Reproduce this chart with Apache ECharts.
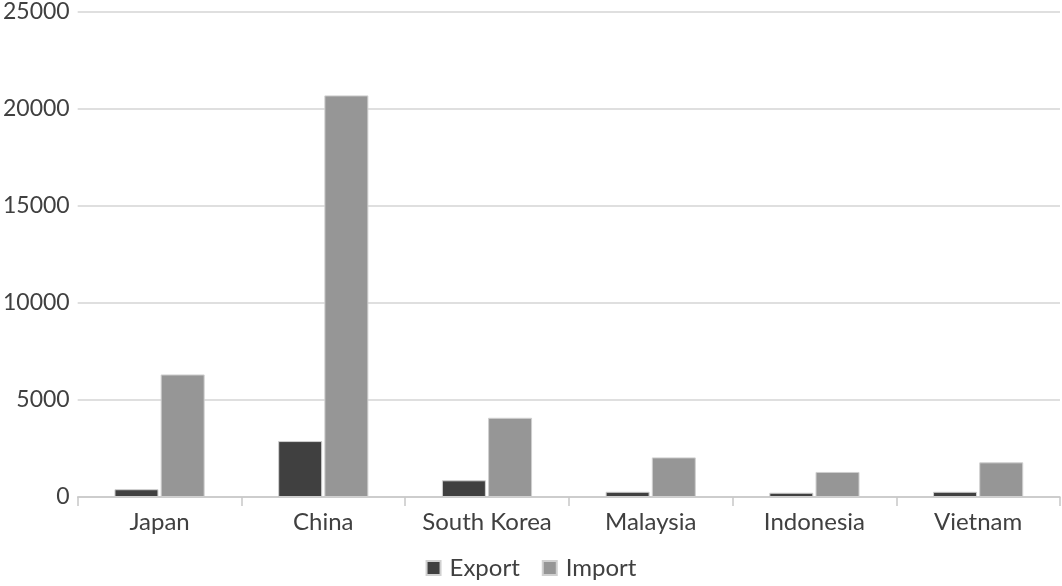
<!DOCTYPE html>
<html><head><meta charset="utf-8">
<script src="https://cdn.jsdelivr.net/npm/echarts@6/dist/echarts.min.js"></script>
<style>html,body{margin:0;padding:0;background:#fff}#c{width:1062px;height:586px}</style>
</head><body><div id="c"></div>
<script>
const categories = ['Japan', 'China', 'South Korea', 'Malaysia', 'Indonesia', 'Vietnam'];
const exportValues = [400, 2880, 860, 270, 220, 270];
const importValues = [6310, 20680, 4080, 2040, 1290, 1785];
const yTicks = [0, 5000, 10000, 15000, 20000, 25000];

const chart = echarts.init(document.getElementById('c'));
chart.setOption({
  animation: false,
  textStyle: { fontFamily: 'Lato' },
  grid: { left: 76, right: 2, top: 11, bottom: 89 },
  legend: {
    bottom: 1, itemWidth: 14, itemHeight: 14, itemGap: 22,
    icon: 'rect',
    textStyle: { fontSize: 24, color: '#404040', fontFamily: 'Lato', padding: [0, 0, 0, 4] },
    data: ['Export', 'Import']
  },
  xAxis: {
    type: 'category', data: categories,
    axisLine: { lineStyle: { color: '#c8c8c8', width: 1.5 } },
    axisTick: { show: true, length: 9, lineStyle: { color: '#c8c8c8', width: 1.5 } },
    axisLabel: { fontSize: 24, color: '#404040', margin: 13, fontFamily: 'Lato', interval: 0 }
  },
  yAxis: {
    type: 'value', min: yTicks[0], max: yTicks[yTicks.length - 1], interval: 5000,
    axisLine: { show: false }, axisTick: { show: false },
    splitLine: { lineStyle: { color: '#d4d4d4', width: 1.5 } },
    axisLabel: { fontSize: 23, color: '#404040', margin: 8, fontFamily: 'Lato',
      formatter: function (v) { return String(v); } }
  },
  series: [
    { name: 'Export', type: 'bar', data: exportValues, barWidth: 44, barGap: '5%',
      itemStyle: { color: '#404040', borderColor: '#d0d0d0', borderWidth: 1 } },
    { name: 'Import', type: 'bar', data: importValues, barWidth: 44,
      itemStyle: { color: '#969696', borderColor: '#d0d0d0', borderWidth: 1 } }
  ]
});
</script></body></html>
